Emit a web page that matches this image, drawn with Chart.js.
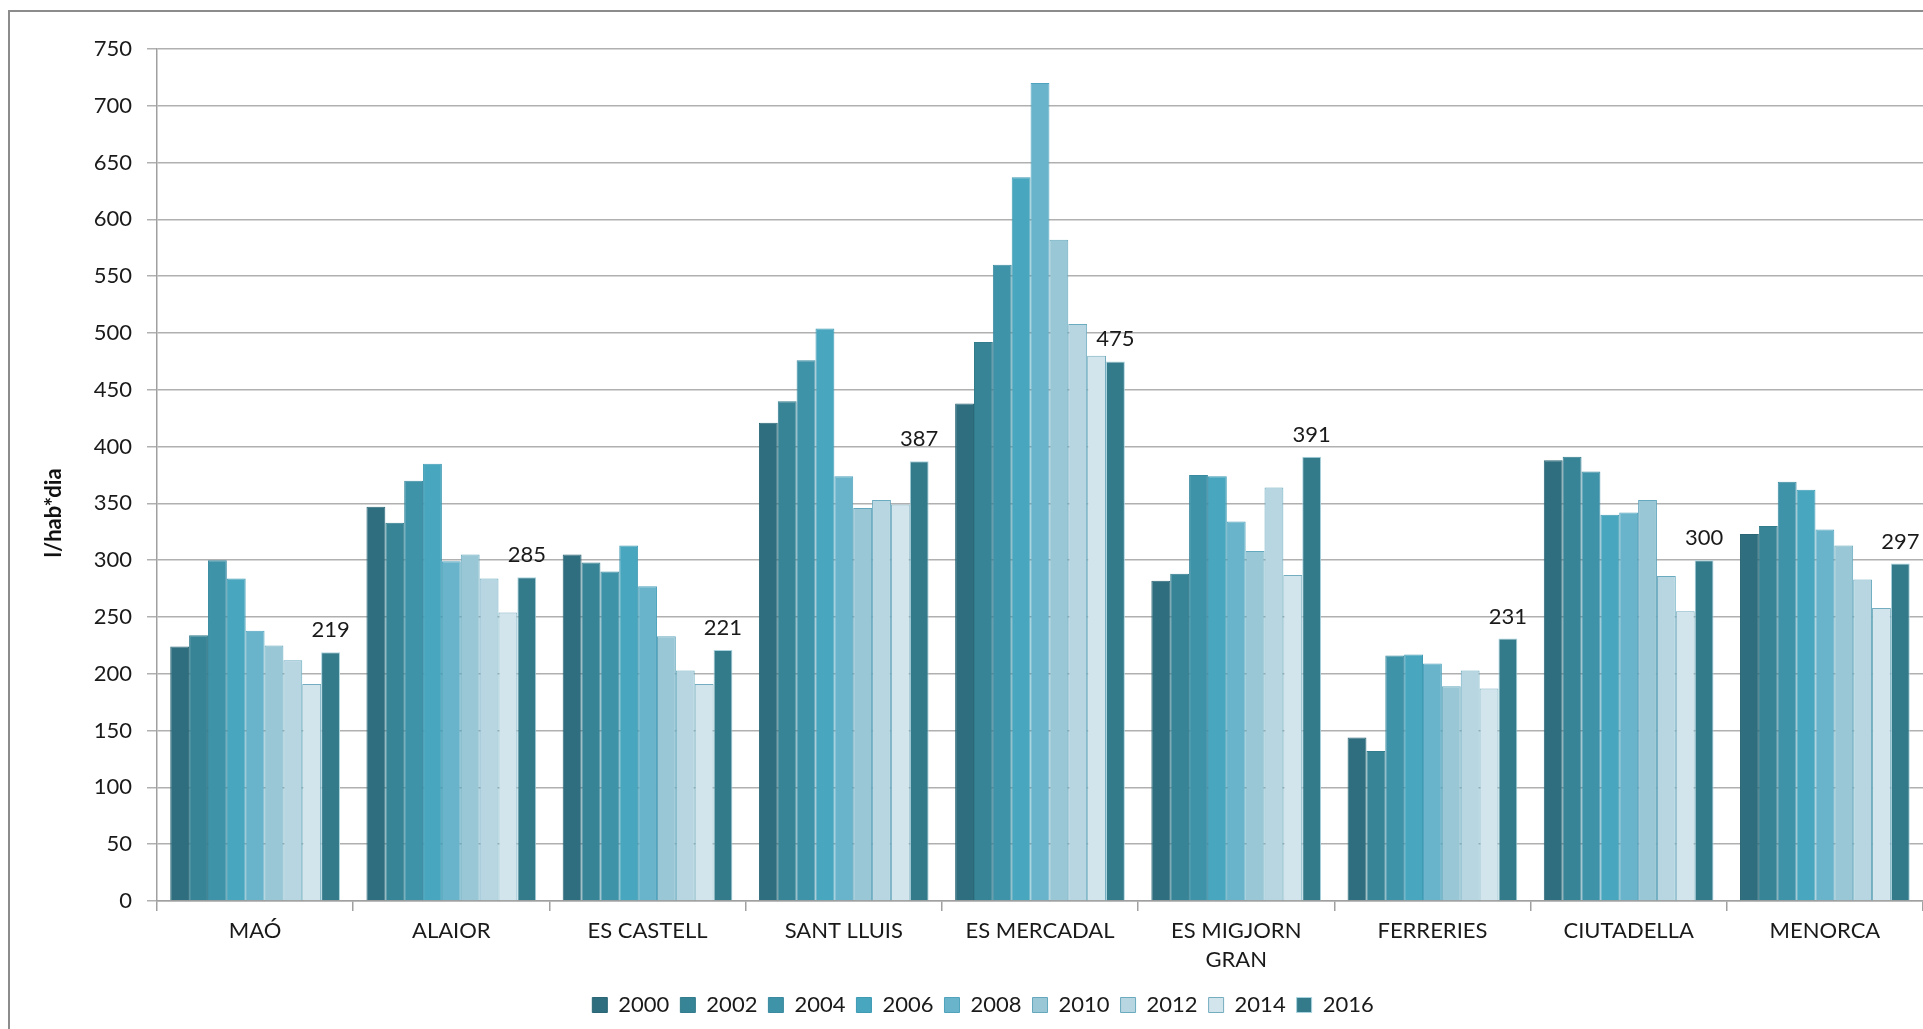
<!DOCTYPE html>
<html>
<head>
<meta charset="utf-8">
<script src="https://cdn.jsdelivr.net/npm/chart.js@4.4.1/dist/chart.umd.min.js"></script>
<style>
  html, body { margin: 0; padding: 0; background: #ffffff; overflow: hidden; width: 1923px; height: 1029px; }
  #frame { position: absolute; left: 8px; top: 10px; width: 3000px; height: 3000px; border: 2px solid #8c8c8c; box-sizing: border-box; z-index: 0; }
  #c { position: absolute; left: 0; top: 0; z-index: 1; }
</style>
</head>
<body>
<div id="frame"></div>
<canvas id="c" width="1923" height="1029" style="width:1923px;height:1029px;"></canvas>
<script>
// ---- data ----
const categories = ['MAÓ', 'ALAIOR', 'ES CASTELL', 'SANT LLUIS', 'ES MERCADAL', ['ES MIGJORN', 'GRAN'], 'FERRERIES', 'CIUTADELLA', 'MENORCA'];
const years = ['2000', '2002', '2004', '2006', '2008', '2010', '2012', '2014', '2016'];
const v2000 = [224, 347, 305, 421, 438, 282, 144, 388, 323];
const v2002 = [234, 333, 298, 440, 492, 288, 132, 391, 330];
const v2004 = [300, 370, 290, 476, 560, 375, 216, 378, 369];
const v2006 = [284, 385, 313, 504, 637, 374, 217, 340, 362];
const v2008 = [238, 299, 277, 374, 720, 334, 209, 342, 327];
const v2010 = [225, 305, 233, 346, 582, 308, 189, 353, 313];
const v2012 = [212, 284, 203, 353, 508, 364, 203, 286, 283];
const v2014 = [191, 254, 191, 349, 480, 287, 187, 255, 258];
const v2016 = [219, 285, 221, 387, 475, 391, 231, 300, 297];
const yTicks = [0, 50, 100, 150, 200, 250, 300, 350, 400, 450, 500, 550, 600, 650, 700, 750];
const yTitle = 'l/hab*dia';

// ---- styles ----
const fills = ['#2E6E7E', '#378496', '#3F93A9', '#48A6BE', '#6AB4CB', '#9AC7D6', '#B7D6E1', '#D3E5EC', '#337A8A'];
const borders = ['#2a6676', '#327c8d', '#3a8aa0', '#3f9bb4', '#4fa3bd', '#64a8bd', '#6aabbf', '#74adbf', '#a9d3de'];
const seriesValues = [v2000, v2002, v2004, v2006, v2008, v2010, v2012, v2014, v2016];
const FONT = 'Lato';

const datasets = years.map((y, i) => ({
  label: y,
  data: seriesValues[i],
  backgroundColor: fills[i],
  borderColor: borders[i],
  borderWidth: 1,
  categoryPercentage: 0.865,
  barPercentage: 1.0
}));

const PLOT_BOTTOM = 901;
const PAD_BOTTOM = 3;
const PAD_LEFT = 43;

const extras = {
  id: 'extras',
  afterDatasetsDraw(chart) {
    const ctx = chart.ctx;
    const meta = chart.getDatasetMeta(8);
    ctx.save();
    ctx.font = '22px ' + FONT;
    ctx.fillStyle = '#1a1a1a';
    ctx.textAlign = 'center';
    ctx.textBaseline = 'alphabetic';
    meta.data.forEach((bar, i) => {
      ctx.fillText(String(v2016[i]), bar.x, bar.y - 15);
    });
    ctx.restore();
  },
  afterDraw(chart) {
    const ctx = chart.ctx;
    ctx.save();
    ctx.translate(54, 513);
    ctx.rotate(-Math.PI / 2);
    ctx.font = 'bold 22px ' + FONT;
    ctx.fillStyle = '#111111';
    ctx.textAlign = 'center';
    ctx.textBaseline = 'middle';
    ctx.fillText(yTitle, 0, 0);
    ctx.restore();
  }
};

new Chart(document.getElementById('c'), {
  type: 'bar',
  data: { labels: categories, datasets: datasets },
  options: {
    responsive: false,
    animation: false,
    devicePixelRatio: 1,
    layout: { padding: { top: 49, left: PAD_LEFT, right: 0, bottom: PAD_BOTTOM } },
    plugins: {
      tooltip: { enabled: false },
      title: { display: false },
      legend: {
        display: true,
        position: 'bottom',
        labels: {
          font: { family: FONT, size: 22 },
          color: '#1a1a1a',
          boxWidth: 15,
          boxHeight: 15,
          padding: 11
        }
      }
    },
    scales: {
      x: {
        offset: true,
        grid: { display: true, drawOnChartArea: false, drawTicks: true, tickLength: 10, color: '#a0a0a0', lineWidth: 1.5, offset: true },
        border: { display: true, color: '#a0a0a0', width: 1.5 },
        ticks: { font: { family: FONT, size: 22, lineHeight: 1.3 }, color: '#1a1a1a', padding: 6, maxRotation: 0, autoSkip: false },
        afterFit(scale) {
          const lh = scale.chart.legend ? scale.chart.legend.height : 48;
          scale.height = scale.chart.height - PLOT_BOTTOM - lh - PAD_BOTTOM;
        }
      },
      y: {
        min: 0,
        max: 750,
        afterBuildTicks(scale) { scale.ticks = yTicks.map(v => ({ value: v })); },
        grid: { color: '#b0b0b0', lineWidth: 1.5, tickLength: 10, drawTicks: true },
        border: { display: true, color: '#a0a0a0', width: 1.5 },
        ticks: { font: { family: FONT, size: 22 }, color: '#1a1a1a', padding: 15 },
        title: { display: false },
        afterFit(scale) { scale.width = 157 - PAD_LEFT; }
      }
    }
  },
  plugins: [extras]
});
</script>
</body>
</html>
